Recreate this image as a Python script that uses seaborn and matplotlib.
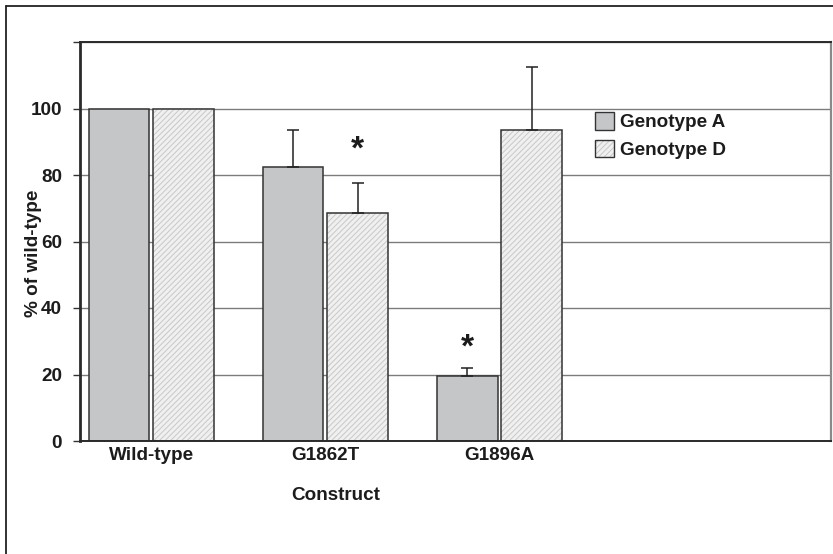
import numpy as np
import pandas as pd
import matplotlib
matplotlib.use("Agg")
import matplotlib.pyplot as plt
from matplotlib.patches import Patch
from matplotlib.lines import Line2D
from matplotlib.colors import to_rgba
import seaborn as sns

# ---- data ----
constructs = ["Wild-type", "G1862T", "G1896A"]
genotypes = ["Genotype A", "Genotype D"]
genotype_a = [100.0, 82.5, 19.5]
genotype_d = [100.0, 68.5, 93.5]
err_a = [0.0, 11.0, 2.5]
err_d = [0.0, 9.0, 19.0]
# significance markers: (construct index, genotype index, label height)
sig_marks = [(1, 1, 87.5), (2, 0, 28.0)]
y_ticks = [0, 20, 40, 60, 80, 100, 120]
y_tick_labels = ["0", "20", "40", "60", "80", "100", ""]

df = pd.DataFrame({
    "construct": constructs * 2,
    "genotype": [genotypes[0]] * 3 + [genotypes[1]] * 3,
    "value": genotype_a + genotype_d,
})

sns.set_style("ticks")
plt.rcParams["font.family"] = ["Liberation Sans", "DejaVu Sans"]
plt.rcParams["font.weight"] = "bold"
plt.rcParams["hatch.linewidth"] = 0.7

FS = 13.6
TXT = "#1c1c1c"
EDGE = "#333333"
FILL_A = "#c5c6c8"
FILL_D = "#f0f0f0"
HATCH_C = "#c8c8c8"

fig = plt.figure(figsize=(8.33, 5.54), dpi=100)
ax = fig.add_axes([80 / 833, 113 / 554, 751 / 833, 399 / 554])

sns.barplot(data=df, x="construct", y="value", hue="genotype",
            order=constructs, hue_order=genotypes,
            palette=[FILL_A, FILL_D], width=0.74, gap=0.06,
            edgecolor=EDGE, linewidth=1.1, errorbar=None,
            legend=False, ax=ax, zorder=2)

cont_a, cont_d = ax.containers[0], ax.containers[1]
for p in cont_d:
    p.set_hatch("//////")
    try:
        p.set_hatchcolor(HATCH_C)
    except AttributeError:
        p._hatch_color = to_rgba(HATCH_C)

# upward-only error bars
for cont, vals, errs in [(cont_a, genotype_a, err_a), (cont_d, genotype_d, err_d)]:
    xs = [p.get_x() + p.get_width() / 2 for p in cont]
    for x, v, e in zip(xs, vals, errs):
        if e > 0:
            ax.errorbar([x], [v], yerr=[[0], [e]], fmt="none", ecolor="#222222",
                        elinewidth=1.1, capsize=4.5, capthick=1.1, zorder=3)

# significance asterisks
for ci, gi, yv in sig_marks:
    p = ax.containers[gi][ci]
    ax.text(p.get_x() + p.get_width() / 2, yv, "*", ha="center", va="center",
            fontsize=24, fontweight="bold", color=TXT, zorder=4)

ax.set_ylim(0, 120)
ax.set_xlim(-0.41, 3.905)
ax.set_yticks(y_ticks)
ax.set_yticklabels(y_tick_labels)
ax.set_axisbelow(True)
ax.yaxis.grid(True, color="#7c7c7c", lw=1.0)
ax.xaxis.grid(False)

ax.tick_params(axis="y", length=5, width=1.0, color="#333333", pad=8,
               labelsize=FS, labelcolor=TXT)
ax.tick_params(axis="x", length=0, pad=4, labelsize=FS, labelcolor=TXT)
for lab in ax.get_xticklabels() + ax.get_yticklabels():
    lab.set_fontweight("bold")

for side in ["left", "bottom", "top"]:
    ax.spines[side].set_color("#2a2a2a")
    ax.spines[side].set_linewidth(1.4)
ax.spines["right"].set_color("#8a8a8a")
ax.spines["right"].set_linewidth(1.6)
ax.spines["left"].set_linewidth(2.0)

ax.set_xlabel("Construct", fontsize=FS, fontweight="bold", color=TXT)
ax.xaxis.set_label_coords((336 - 80) / 751, -46 / 399)
ax.set_ylabel("% of wild-type", fontsize=FS, fontweight="bold", color=TXT)
ax.yaxis.set_label_coords(-38 / 751, 0.47)

handles = [
    Patch(facecolor=FILL_A, edgecolor=EDGE, linewidth=1.0),
    Patch(facecolor=FILL_D, edgecolor=EDGE, linewidth=1.0, hatch="//////"),
]
leg = ax.legend(handles, genotypes, loc="upper left",
                bbox_to_anchor=(595 / 833, 1 - 112 / 554),
                bbox_transform=fig.transFigure, frameon=False,
                borderpad=0, borderaxespad=0, handlelength=1.0,
                handleheight=1.05, handletextpad=0.35, labelspacing=0.45,
                prop={"size": FS, "weight": "bold"})
for t in leg.get_texts():
    t.set_color(TXT)
try:
    leg.legend_handles[1].set_hatchcolor(HATCH_C)
except AttributeError:
    leg.legend_handles[1]._hatch_color = to_rgba(HATCH_C)

# outer frame (partly cropped box)
fig.add_artist(Line2D([6 / 833, 6 / 833], [0, 1 - 6 / 554], transform=fig.transFigure,
                      color="#222222", lw=1.3))
fig.add_artist(Line2D([6 / 833, 1], [1 - 6 / 554, 1 - 6 / 554], transform=fig.transFigure,
                      color="#222222", lw=1.3))

fig.savefig("out.png", dpi=100, facecolor="white")
